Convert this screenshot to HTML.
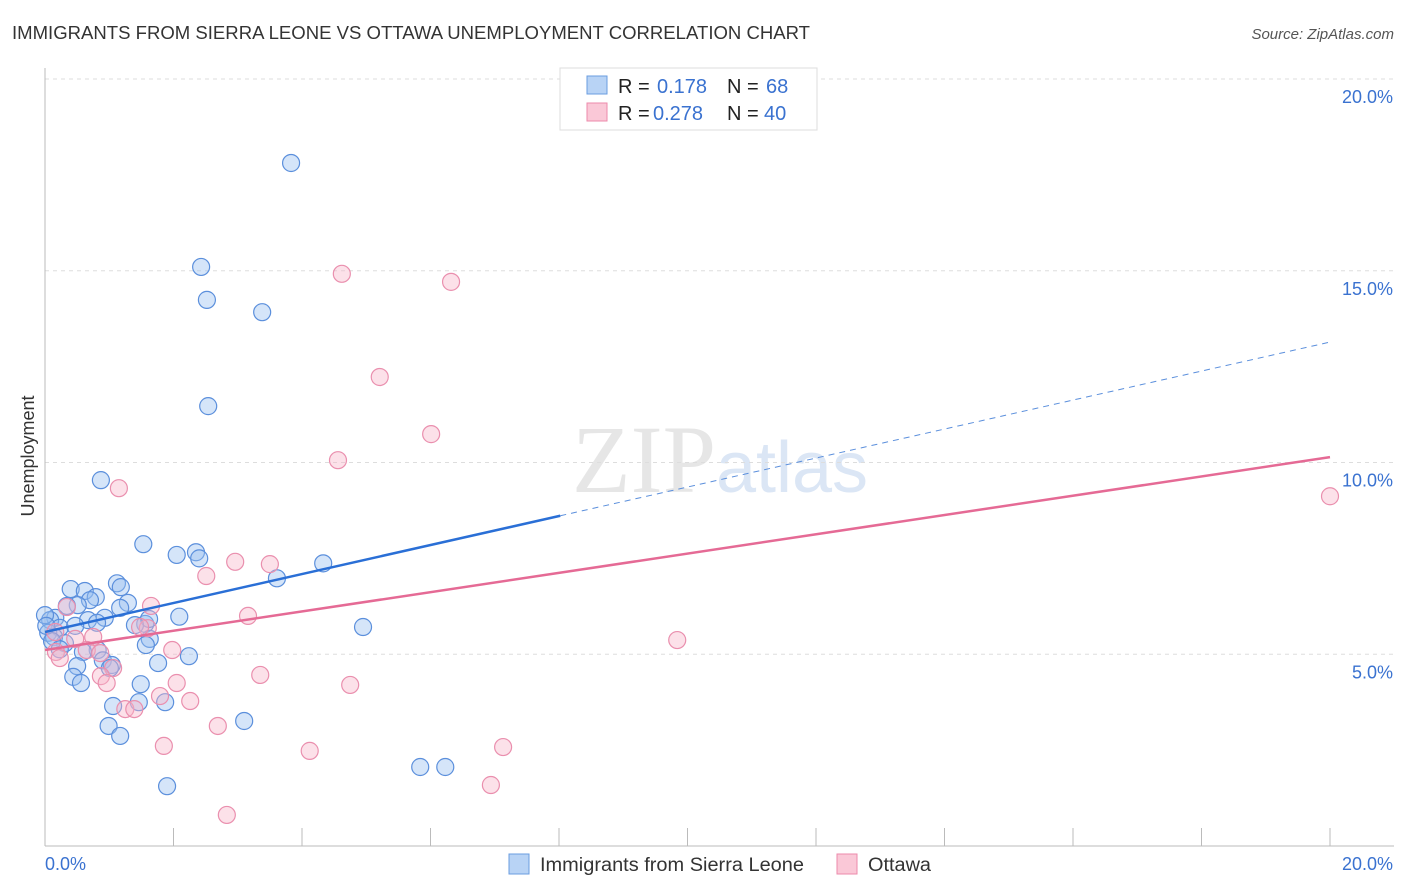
<!DOCTYPE html>
<html><head><meta charset="utf-8"><style>
body{margin:0;background:#fff;font-family:"Liberation Sans",sans-serif;}
svg{display:block}
</style></head><body>
<svg id="chart" width="1406" height="892">
<text x="12" y="39" font-size="18" fill="#333" textLength="798" lengthAdjust="spacingAndGlyphs">IMMIGRANTS FROM SIERRA LEONE VS OTTAWA UNEMPLOYMENT CORRELATION CHART</text>
<text x="1394" y="39" font-size="15" fill="#555" font-style="italic" text-anchor="end">Source: ZipAtlas.com</text>
<text x="720" y="492" font-size="96" fill="#e6e6e6" text-anchor="middle" font-family="Liberation Serif, serif">ZIP<tspan fill="#dbe6f5" font-family="Liberation Sans, sans-serif" font-size="72">atlas</tspan></text>
<text transform="translate(34,456) rotate(-90)" font-size="18" fill="#333" text-anchor="middle">Unemployment</text>
<g id="grid"></g><g id="marks"></g>
<g>
<rect x="560" y="68" width="257" height="62" fill="#fff" stroke="#ddd"/>
<rect x="587" y="76" width="20" height="18" fill="#b8d3f5" stroke="#6a9de0"/>
<rect x="587" y="103" width="20" height="18" fill="#fac8d7" stroke="#ec8aab"/>
<text y="93" font-size="20" fill="#222"><tspan x="618">R =</tspan><tspan x="657" fill="#3a72d0">0.178</tspan><tspan x="727">N =</tspan><tspan x="766" fill="#3a72d0">68</tspan></text>
<text y="120" font-size="20" fill="#222"><tspan x="618">R =</tspan><tspan x="653" fill="#3a72d0">0.278</tspan><tspan x="727">N =</tspan><tspan x="764" fill="#3a72d0">40</tspan></text>
</g>
<g>
<rect x="509" y="854" width="20" height="20" fill="#b8d3f5" stroke="#6a9de0"/>
<text x="540" y="871" font-size="19" fill="#333" textLength="264" lengthAdjust="spacingAndGlyphs">Immigrants from Sierra Leone</text>
<rect x="837" y="854" width="20" height="20" fill="#fac8d7" stroke="#ec8aab"/>
<text x="868" y="871" font-size="19" fill="#333" textLength="63" lengthAdjust="spacingAndGlyphs">Ottawa</text>
</g>
</svg>
<script>
const yTicks=[5,10,15,20];
const yTickLabels=["5.0%","10.0%","15.0%","20.0%"];
const blueX=[3.83,2.43,2.52,3.38,2.54,0.87,1.53,2.05,2.35,2.40,4.33,3.61,1.56,1.12,1.18,0.40,0.62,0.79,0.70,0.51,1.29,1.17,0.34,2.09,1.62,0.93,0.67,0.81,1.40,0.16,0.08,0.23,0.05,4.95,1.63,1.57,0.14,0.31,0.82,0.59,2.24,1.76,0.90,1.04,0.50,0.44,0.56,1.49,1.06,1.46,1.87,0.99,1.17,3.10,5.84,6.23,1.90,0.0,0.11,0.23,0.47,1.01,0.02];
const blueY=[17.81,15.10,14.24,13.92,11.47,9.54,7.87,7.59,7.66,7.50,7.37,6.98,5.79,6.85,6.75,6.70,6.65,6.49,6.41,6.28,6.34,6.21,6.26,5.98,5.92,5.95,5.89,5.82,5.76,5.95,5.89,5.69,5.56,5.71,5.40,5.24,5.45,5.29,5.11,5.06,4.95,4.77,4.84,4.72,4.69,4.41,4.25,4.22,3.65,3.75,3.75,3.13,2.87,3.26,2.06,2.06,1.56,6.02,5.34,5.13,5.74,4.64,5.74];
const pinkX=[4.62,6.32,5.21,6.01,4.56,1.15,20.0,2.96,3.50,2.51,1.65,3.16,0.34,1.60,0.75,0.16,9.84,0.65,1.98,0.17,1.06,3.35,4.75,2.05,0.87,0.96,1.79,2.26,1.25,1.39,2.69,1.85,4.12,7.13,6.94,2.83,0.47,1.48,0.23,0.86];
const pinkY=[14.92,14.71,12.23,10.74,10.06,9.33,9.12,7.41,7.35,7.04,6.26,6.00,6.23,5.68,5.45,5.58,5.37,5.11,5.11,5.06,4.64,4.46,4.20,4.25,4.43,4.25,3.91,3.78,3.57,3.57,3.13,2.61,2.48,2.58,1.59,0.81,5.40,5.71,4.90,5.03];
const blueLine=[5.58,13.14], blueSolidEnd=8.02;
const pinkLine=[5.11,10.14];
const xs=v=>45+v/20*1285, ys=v=>846-v/5*191.75;
const NS='http://www.w3.org/2000/svg';
function mk(t,a,p){const e=document.createElementNS(NS,t);for(const k in a)e.setAttribute(k,a[k]);p.appendChild(e);return e;}
const grid=document.getElementById('grid'), marks=document.getElementById('marks');
yTicks.forEach((t,i)=>{
 const g=mk('line',{x1:45,x2:1394,y1:ys(t),y2:ys(t),stroke:'#ddd','stroke-dasharray':'4,4'},grid);
 
 
 const l=mk('text',{x:1393,y:ys(t)+24,'font-size':18,fill:'#3a72d0','text-anchor':'end'},grid);
 l.textContent=yTickLabels[i];
 
 
});
const ax=mk('line',{x1:45,x2:1394,y1:846,y2:846,stroke:'#bbb'},grid);


const ay=mk('line',{x1:45,x2:45,y1:68,y2:846,stroke:'#bbb'},grid);


for(let i=1;i<=10;i++){const t=mk('line',{x1:xs(i*2),x2:xs(i*2),y1:828,y2:846,stroke:'#bbb'},grid);
 
 }
[['0.0%',45,'start'],['20.0%',1393,'end']].forEach(d=>{const t=mk('text',{x:d[1],y:870,'font-size':18,fill:'#3a72d0','text-anchor':d[2]},grid);t.textContent=d[0];
 
 });
blueX.forEach((x,i)=>{const c=mk('circle',{cx:xs(x),cy:ys(blueY[i]),r:8.5,fill:'rgba(150,190,240,0.4)',stroke:'#5b8fdc','stroke-width':1.2},marks);
 
 });
pinkX.forEach((x,i)=>{const c=mk('circle',{cx:xs(x),cy:ys(pinkY[i]),r:8.5,fill:'rgba(248,180,200,0.4)',stroke:'#ea8fae','stroke-width':1.2},marks);
 
 });
const by=x=>blueLine[0]+(blueLine[1]-blueLine[0])*x/20;
const l1=mk('line',{x1:xs(0),y1:ys(by(0)),x2:xs(blueSolidEnd),y2:ys(by(blueSolidEnd)),stroke:'#2a6fd6','stroke-width':2.5},marks);


const l2=mk('line',{x1:xs(blueSolidEnd),y1:ys(by(blueSolidEnd)),x2:xs(20),y2:ys(by(20)),stroke:'#5b8fdc','stroke-width':1,'stroke-dasharray':'6,5'},marks);


const l3=mk('line',{x1:xs(0),y1:ys(pinkLine[0]),x2:xs(20),y2:ys(pinkLine[1]),stroke:'#e56a95','stroke-width':2.5},marks);


</script>
</body></html>
